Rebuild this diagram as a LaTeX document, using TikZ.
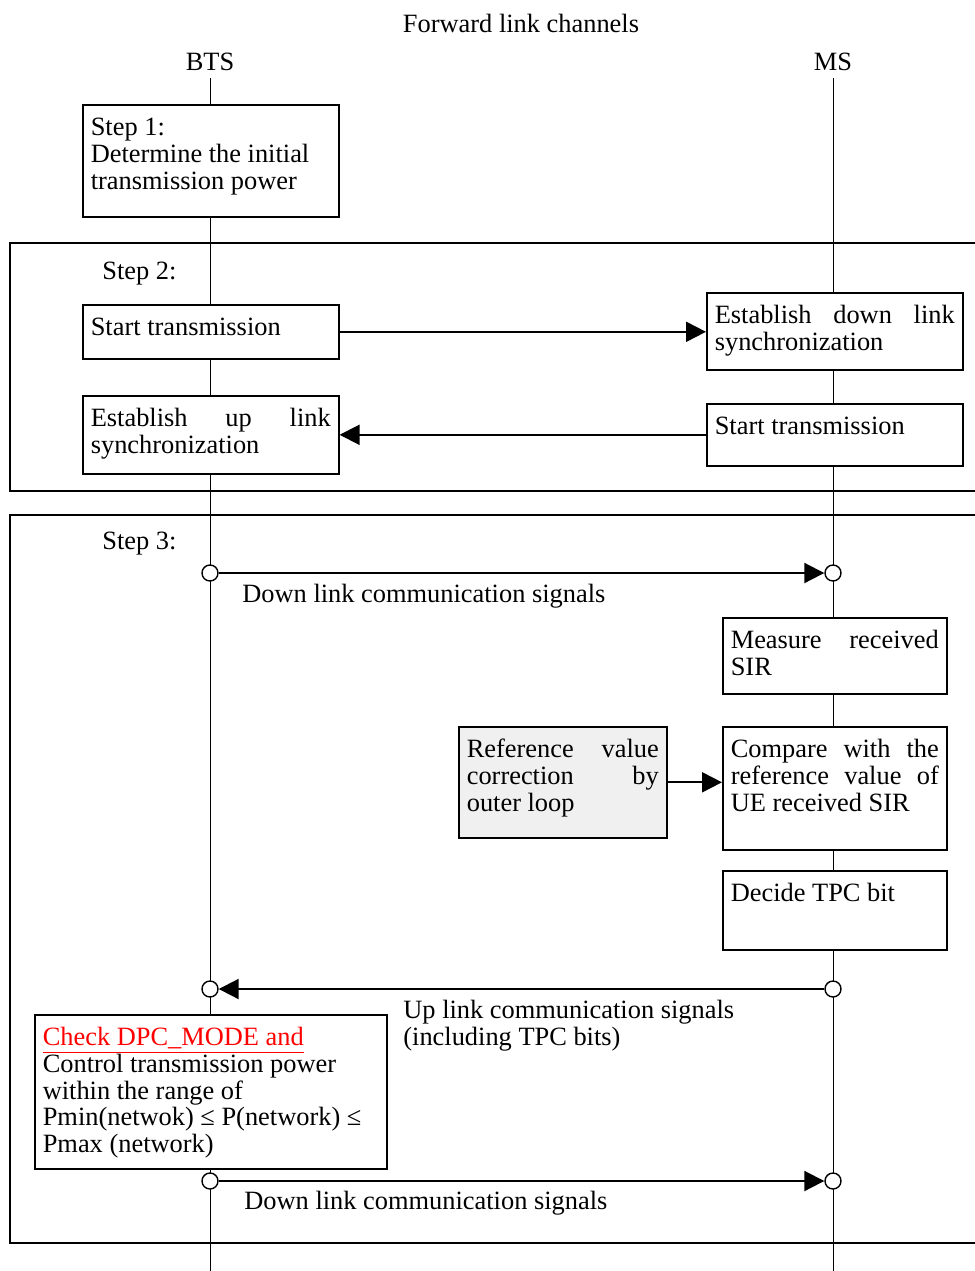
\documentclass[tikz,border=0pt]{standalone}
\usepackage{fontspec}
\setmainfont{Liberation Serif}
\usetikzlibrary{arrows.meta}

\newcommand{\diagfont}{\fontsize{13.2pt}{13.3pt}\selectfont}
\newcommand{\boxtext}[3]{\parbox[c][#2][t]{#1}{\rule{0pt}{11.5pt}#3}}

\tikzset{
  box/.style={draw,line width=0.8pt,fill=white,inner sep=4pt,anchor=north west},
  frame/.style={draw,line width=0.8pt},
  life/.style={draw,line width=0.5pt},
  port/.style={circle,draw,line width=0.7pt,fill=white,inner sep=0pt,minimum size=8pt},
  msg/.style={->,line width=1pt},
  lbl/.style={inner sep=0pt}
}

\begin{document}
\begin{tikzpicture}[x=0.5pt,y=-0.5pt,>={Triangle[length=10pt,width=10pt]},font=\diagfont]
\useasboundingbox (0,0) rectangle (975,1271);

% heading and lifelines
\node (title) at (521,23) {Forward link channels};
\node (bts) at (210,62) {BTS};
\node (ms) at (833,62) {MS};
\coordinate (bottom) at (0,1271);

\draw[frame] (10,243) rectangle (990,491);
\draw[frame] (10,515) rectangle (990,1243);

\draw[life] (bts.south) -- (bts.south |- bottom);
\draw[life] (ms.south) -- (ms.south |- bottom);

% step 1
\node[box] (step1) at (82,104) {\boxtext{120pt}{48pt}{Step 1:\\Determine the initial\\transmission power}};

% step 2
\node[lbl,anchor=west] (step2) at (102,274) {Step 2:};
\node[box] (btsstart) at (82,304) {\boxtext{120pt}{19pt}{Start transmission}};
\node[box] (msdown) at (706,292) {\boxtext{120pt}{30.5pt}{Establish down link\linebreak synchronization}};
\node[box] (btsup) at (82,395) {\boxtext{120pt}{31pt}{Establish up link\linebreak synchronization}};
\node[box] (msstart) at (706,403) {\boxtext{120pt}{23pt}{Start transmission}};
\draw[msg] (btsstart.east) -- (msdown.west |- btsstart.east);
\draw[msg] (msstart.west) -- (btsup.east |- msstart.west);

% step 3
\node[lbl,anchor=west] (step3) at (102,544) {Step 3:};
\node[port] (p1) at (210,573) {};
\node[port] (p2) at (833,573) {};
\draw[msg] (p1) -- (p2);
\node[lbl,anchor=west] (dl1) at (242,596) {Down link communication signals};

\node[box] (measure) at (722,617) {\boxtext{104pt}{30pt}{Measure received\linebreak SIR}};
\node[box] (compare) at (722,726) {\boxtext{104pt}{53.5pt}{Compare with the\linebreak reference value of\linebreak UE received SIR}};
\node[box,fill=gray!12] (refval) at (458,726) {\boxtext{96pt}{47.5pt}{Reference value\linebreak correction by\linebreak outer loop}};
\draw[msg] (refval.east) -- (compare.west |- refval.east);
\node[box] (decide) at (722,870) {\boxtext{104pt}{31.5pt}{Decide TPC bit}};

\node[port] (p3) at (210,989) {};
\node[port] (p4) at (833,989) {};
\draw[msg] (p4) -- (p3);
\node[lbl,anchor=north west,align=left] (ul) at (403,1000) {Up link communication signals\\(including TPC bits)};

\node[box] (check) at (34,1014) {\boxtext{168pt}{69pt}{\textcolor{red}{\underline{Check DPC\_MODE and}}\\Control transmission power\\within the range of\\Pmin(netwok) ≤ P(network) ≤\\Pmax (network)}};

\node[port] (p5) at (210,1181) {};
\node[port] (p6) at (833,1181) {};
\draw[msg] (p5) -- (p6);
\node[lbl,anchor=west] (dl2) at (244,1203) {Down link communication signals};
\end{tikzpicture}
\end{document}
